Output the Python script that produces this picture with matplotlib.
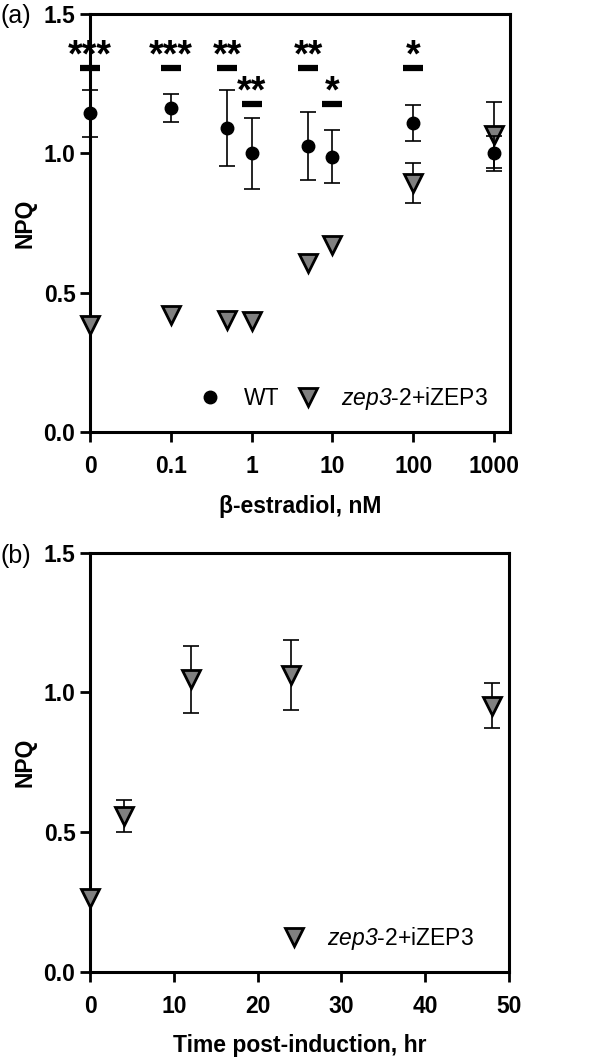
import matplotlib
matplotlib.use("Agg")
import matplotlib.pyplot as plt
from matplotlib.lines import Line2D

plt.rcParams['font.family'] = ['Liberation Sans', 'DejaVu Sans']
plt.rcParams['mathtext.fontset'] = 'custom'
plt.rcParams['mathtext.bf'] = 'Liberation Sans:italic'
plt.rcParams['mathtext.rm'] = 'Liberation Sans'

# ---------------- data ----------------
conc = [0, 0.1, 0.5, 1, 5, 10, 100, 1000]          # beta-estradiol, nM
conc_ticks = [0, 0.1, 1, 10, 100, 1000]
conc_tick_labels = ["0", "0.1", "1", "10", "100", "1000"]
wt_mean = [1.144, 1.164, 1.090, 1.000, 1.027, 0.988, 1.108, 1.000]
wt_sd = [0.085, 0.050, 0.137, 0.128, 0.122, 0.096, 0.064, 0.062]
zep_mean = [0.384, 0.421, 0.402, 0.399, 0.607, 0.670, 0.895, 1.066]
zep_sd = [0.0, 0.0, 0.0, 0.0, 0.0, 0.0, 0.072, 0.120]   # 0 = bar hidden by marker
sig_text = ["***", "***", "**", "**", "**", "*", "*", ""]
sig_bar_y = [1.305, 1.305, 1.305, 1.176, 1.305, 1.176, 1.305, None]

time_h = [0, 4, 12, 24, 48]
time_mean = [0.263, 0.559, 1.047, 1.062, 0.953]
time_sd = [0.0, 0.057, 0.121, 0.124, 0.082]

y_ticks = [0.0, 0.5, 1.0, 1.5]
y_tick_labels = ["0.0", "0.5", "1.0", "1.5"]

ZERO_POS = 0.01   # where "0" is placed on the log axis (one decade below 0.1)
GRAY = '#808080'
FS = 16.5
LEGEND_LABEL = r"$\mathbf{zep3}$-2+iZEP3"

fig = plt.figure(figsize=(6.14, 10.62), dpi=100)
axA = fig.add_axes([0.1466, 0.5932, 0.684, 0.3936])
axB = fig.add_axes([0.1466, 0.0850, 0.6824, 0.3945])


def style_axes(ax):
    for s in ax.spines.values():
        s.set_linewidth(2.2)
    ax.tick_params(direction='out', length=7.5, width=2.0, labelsize=FS)
    ax.tick_params(axis='x', pad=9)
    ax.tick_params(axis='y', pad=3)
    ax.set_ylim(0, 1.5)
    ax.set_yticks(y_ticks)
    ax.set_yticklabels(y_tick_labels, fontweight='bold')
    ax.set_ylabel("NPQ", fontsize=FS, fontweight='bold', labelpad=5)
    ax.minorticks_off()


err_kw = dict(ecolor='black', elinewidth=1.2, capsize=5.5, capthick=1.2, fmt='none')
tri_kw = dict(marker='v', markersize=12.5, markerfacecolor=GRAY, markeredgecolor='black',
              markeredgewidth=2.0)
cir_kw = dict(marker='o', markersize=9, markerfacecolor='black', markeredgecolor='black')


def points(ax, x, y, sd, style, z):
    xe = [a for a, s in zip(x, sd) if s > 0]
    ye = [b for b, s in zip(y, sd) if s > 0]
    se = [s for s in sd if s > 0]
    c = ax.errorbar(xe, ye, yerr=se, zorder=z, **err_kw)
    for a in list(c.lines[1]) + list(c.lines[2]):
        a.set_clip_on(False)
    ax.plot(x, y, linestyle='none', zorder=z + 0.5, clip_on=False, **style)


# ---------------- panel (a) ----------------
xpos = [c if c > 0 else ZERO_POS for c in conc]
axA.set_xscale('log')
points(axA, xpos, zep_mean, zep_sd, tri_kw, 3)
points(axA, xpos, wt_mean, wt_sd, cir_kw, 4)

axA.set_xlim(ZERO_POS, 10 ** 3.198)
tpos = [c if c > 0 else ZERO_POS for c in conc_ticks]
axA.set_xticks(tpos)
axA.set_xticklabels(conc_tick_labels, fontweight='bold')
style_axes(axA)
axA.set_xlabel("β-estradiol, nM", fontsize=FS, fontweight='bold', labelpad=12)

half = 10 ** 0.123
for x, t, yb in zip(xpos, sig_text, sig_bar_y):
    if not t:
        continue
    axA.plot([x / half, x * half], [yb, yb], color='black', lw=4.5,
             solid_capstyle='butt', clip_on=False, zorder=5)
    axA.text(x, yb + 0.008, t, ha='center', va='baseline', fontsize=27,
             fontweight='bold', clip_on=False)

hA = [Line2D([], [], linestyle='none', **cir_kw), Line2D([], [], linestyle='none', **tri_kw)]
axA.legend(hA, ["WT", LEGEND_LABEL], loc='center', bbox_to_anchor=(0.603, 0.081),
           ncol=2, frameon=False, fontsize=FS, handlelength=1.0, handletextpad=0.95,
           columnspacing=0.75, borderpad=0, borderaxespad=0)

# ---------------- panel (b) ----------------
points(axB, time_h, time_mean, time_sd, tri_kw, 3)
axB.set_xlim(0, 50)
axB.set_xticks([0, 10, 20, 30, 40, 50])
axB.set_xticklabels(["0", "10", "20", "30", "40", "50"], fontweight='bold')
style_axes(axB)
axB.set_xlabel("Time post-induction, hr", fontsize=FS, fontweight='bold', labelpad=12)
hB = [Line2D([], [], linestyle='none', **tri_kw)]
axB.legend(hB, [LEGEND_LABEL], loc='center', bbox_to_anchor=(0.688, 0.08),
           frameon=False, fontsize=FS, handlelength=1.0, handletextpad=0.95,
           borderpad=0, borderaxespad=0)

fig.text(0.0, 1 - 16 / 1062, "(a)", fontsize=18, ha='left', va='center')
fig.text(0.0, 1 - 556 / 1062, "(b)", fontsize=18, ha='left', va='center')

fig.savefig("out.png", dpi=100)
